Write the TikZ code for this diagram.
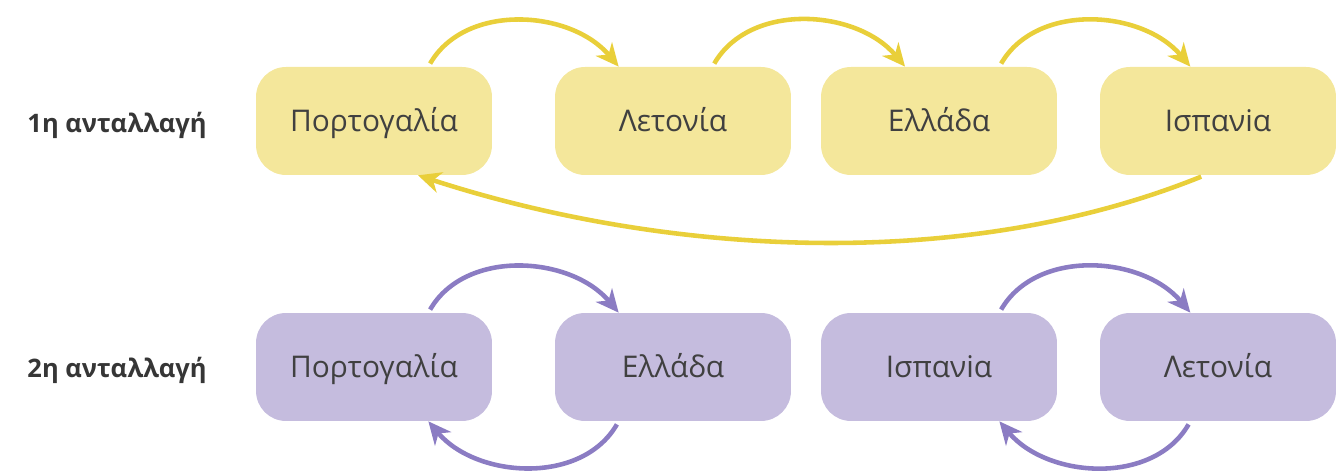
\documentclass[tikz,border=0pt]{standalone}
\usepackage{fontspec}
\setmainfont{Open Sans}
\usetikzlibrary{arrows.meta}
\definecolor{boxYellow}{HTML}{F4E79B}
\definecolor{lineYellow}{HTML}{E9CF3A}
\definecolor{boxPurple}{HTML}{C5BCDE}
\definecolor{linePurple}{HTML}{8B7CC3}
\definecolor{textGray}{HTML}{404040}
\begin{document}
\begin{tikzpicture}
[x=0.02cm,y=0.02cm,
  boxDecorate/.style={shape=rectangle,rounded corners=0.6cm,inner sep=0pt,
    minimum width=4.72cm,minimum height=2.16cm,text=textGray,
    text height=14pt,text depth=2pt,font=\fontsize{17}{20}\selectfont},%
  yellowBox/.style={boxDecorate,fill=boxYellow},%
  purpleBox/.style={boxDecorate,fill=boxPurple},%
  arrowDecorate/.style={line width=2.6pt,shorten <=2pt,
    -{Stealth[length=13pt,width=12pt,inset=4pt]}},%
  yellowArrow/.style={arrowDecorate,draw=lineYellow},%
  purpleArrow/.style={arrowDecorate,draw=linePurple},%
  labelDecorate/.style={text=textGray!85!black,font=\bfseries\fontsize{14.5}{17}\selectfont}]
\useasboundingbox (0,0) rectangle (1341,475);
%% round labels
\node (r1) at (117,350) [labelDecorate] {1η ανταλλαγή};
\node (r2) at (117,105) [labelDecorate] {2η ανταλλαγή};
%% country boxes
\foreach \nodename/\x/\y/\boxstyle/\country in {
  p1/374/354/yellowBox/Πορτογαλία, l1/673/354/yellowBox/Λετονία,
  e1/939/354/yellowBox/Ελλάδα, i1/1218/354/yellowBox/Ισπανiα,
  p2/374/108/purpleBox/Πορτογαλία, e2/673/108/purpleBox/Ελλάδα,
  i2/939/108/purpleBox/Ισπανiα, l2/1218/108/purpleBox/Λετονία}
{
  \node (\nodename) at (\x,\y) [\boxstyle] {\country};
}
%% exchanges
\path
\foreach \startnode/\startangle/\endnode/\endangle in {
  p1/45/l1/135, l1/54/e1/122, e1/42/i1/117}
{
  (\startnode.\startangle) edge[yellowArrow,out=60,in=130] (\endnode.\endangle)
};
\draw[yellowArrow] (i1.256) to[out=-158,in=-18,looseness=0.85] (p1.-51);
\path
\foreach \startnode/\startangle/\endnode/\endangle in {
  p2/45/e2/135, i2/42/l2/117}
{
  (\startnode.\startangle) edge[purpleArrow,out=60,in=130] (\endnode.\endangle)
  (\endnode.-\endangle) edge[purpleArrow,out=-120,in=-50] (\startnode.-\startangle)
};
\end{tikzpicture}
\end{document}
